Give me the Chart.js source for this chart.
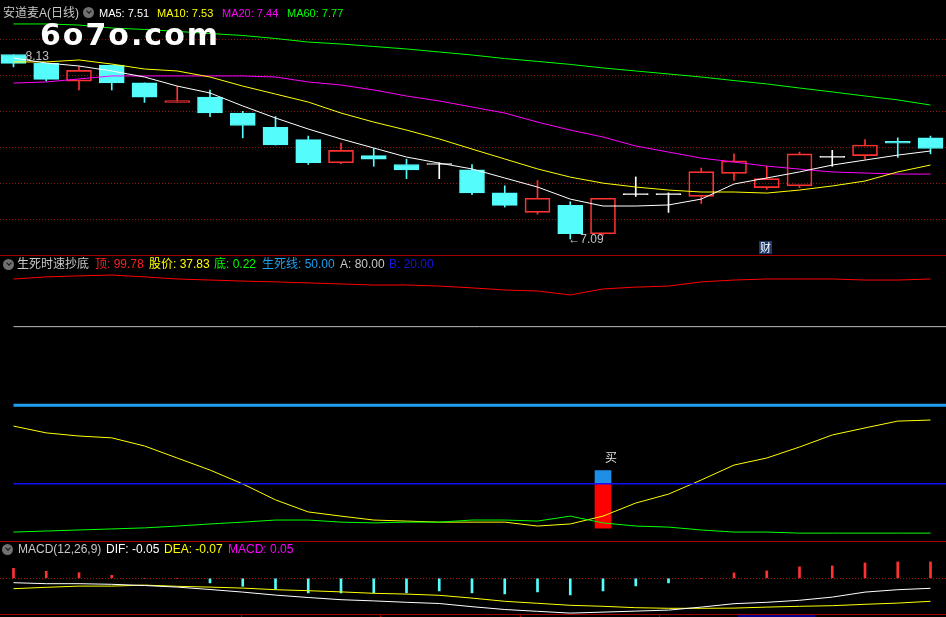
<!DOCTYPE html>
<html>
<head>
<meta charset="utf-8">
<script src="https://cdn.jsdelivr.net/npm/chart.js@4.4.0/dist/chart.umd.min.js"></script>
<style>
body{margin:0;background:#000;width:946px;height:617px;overflow:hidden;position:relative;font-family:"Liberation Sans","Noto Sans CJK SC",sans-serif;}
canvas{position:absolute;left:0;}
.t{position:absolute;font-size:12px;line-height:16px;white-space:nowrap;z-index:5;}
.s{font-size:11px;}
.ic{position:absolute;width:11px;height:11px;border-radius:50%;background:#707070;z-index:5;}
.ic:after{content:'';position:absolute;left:3.5px;top:2px;width:3px;height:3px;border-right:1.5px solid #151515;border-bottom:1.5px solid #151515;transform:rotate(45deg);}
.hl{position:absolute;left:0;width:946px;height:1px;background:#a00000;z-index:4;}
.tk{position:absolute;top:614px;width:1px;height:3px;background:#a00000;}
.wm{position:absolute;left:40px;top:20px;font:bold 30px/30px "DejaVu Sans";letter-spacing:2px;color:#fff;z-index:6;}
.cai{position:absolute;left:759px;top:241px;width:13px;height:13px;background:#1b3b6e;color:#fff;font:11px/13px "Noto Sans CJK SC";text-align:center;z-index:5;}
</style>
</head>
<body>
<canvas id="k" width="946" height="255" style="top:0"></canvas>
<canvas id="sd" width="946" height="286" style="top:255px"></canvas>
<canvas id="macd" width="946" height="73" style="top:541px"></canvas>

<div class="hl" style="top:255px"></div>
<div class="hl" style="top:541px"></div>
<div class="hl" style="top:614px"></div>
<div class="tk" style="left:241px"></div>
<div class="tk" style="left:380px"></div>
<div class="tk" style="left:520px"></div>
<div class="tk" style="left:659px"></div>
<div style="position:absolute;left:738px;top:615px;width:77px;height:2px;background:#00008b"></div>

<!-- 主图标题 -->
<span class="t" style="left:3px;top:5px;color:#c8c8c8">安道麦A(日线)</span>
<div class="ic" style="left:83px;top:7px"></div>
<span class="t s" style="left:99px;top:5px;color:#fff">MA5: 7.51</span>
<span class="t s" style="left:157px;top:5px;color:#ffff00">MA10: 7.53</span>
<span class="t s" style="left:222px;top:5px;color:#ff00ff">MA20: 7.44</span>
<span class="t s" style="left:287px;top:5px;color:#00ff00">MA60: 7.77</span>
<div class="wm">6o7o.com</div>
<div class="cai">财</div>

<!-- 副图标题 -->
<div class="ic" style="left:3px;top:259px"></div>
<span class="t" style="left:17px;top:256px;color:#c8c8c8">生死时速抄底</span>
<span class="t" style="left:95px;top:256px;color:#ff2020">顶: 99.78</span>
<span class="t" style="left:149px;top:256px;color:#ffff00">股价: 37.83</span>
<span class="t" style="left:214px;top:256px;color:#00ff00">底: 0.22</span>
<span class="t" style="left:262px;top:256px;color:#1e9fef">生死线: 50.00</span>
<span class="t" style="left:340px;top:256px;color:#c8c8c8">A: 80.00</span>
<span class="t" style="left:389px;top:256px;color:#1515e6">B: 20.00</span>

<div class="ic" style="left:2px;top:544px"></div>
<span class="t" style="left:18px;top:541px;color:#c8c8c8">MACD(12,26,9)</span>
<span class="t" style="left:106px;top:541px;color:#fff">DIF: -0.05</span>
<span class="t" style="left:164px;top:541px;color:#ffff00">DEA: -0.07</span>
<span class="t" style="left:228px;top:541px;color:#ff00ff">MACD: 0.05</span>

<script>
// K线数据
const open  = [8.13,8.08,7.98,8.07,7.97,7.86,7.89,7.80,7.72,7.65,7.52,7.56,7.51,7.51,7.48,7.35,7.24,7.28,7.12,7.34,7.34,7.33,7.46,7.38,7.39,7.55,7.56,7.64,7.66];
const high  = [8.13,8.08,8.06,8.07,7.97,7.95,7.93,7.81,7.78,7.67,7.63,7.60,7.54,7.52,7.51,7.39,7.42,7.30,7.32,7.44,7.35,7.49,7.57,7.50,7.58,7.59,7.65,7.66,7.67];
const low   = [8.06,7.98,7.93,7.93,7.86,7.86,7.78,7.66,7.62,7.51,7.515,7.50,7.43,7.43,7.34,7.27,7.23,7.09,7.11,7.33,7.24,7.29,7.42,7.37,7.38,7.50,7.54,7.55,7.57];
const close = [8.08,7.99,8.04,7.97,7.89,7.87,7.80,7.73,7.62,7.52,7.59,7.54,7.48,7.51,7.35,7.28,7.32,7.12,7.32,7.34,7.34,7.47,7.53,7.43,7.57,7.55,7.62,7.63,7.60];

const ma5  = [8.110,8.082,8.065,8.037,8.003,7.952,7.913,7.840,7.772,7.710,7.654,7.603,7.552,7.518,7.485,7.434,7.383,7.315,7.276,7.276,7.282,7.315,7.400,7.434,7.468,7.507,7.535,7.563,7.586];
const ma10 = [8.088,8.088,8.099,8.076,8.048,8.037,8.003,7.952,7.907,7.862,7.800,7.749,7.704,7.654,7.597,7.541,7.485,7.439,7.405,7.383,7.366,7.355,7.355,7.349,7.366,7.389,7.417,7.468,7.507];
const ma20 = [7.969,7.975,7.992,8.009,8.009,8.009,8.009,8.009,8.003,7.975,7.958,7.930,7.896,7.868,7.834,7.800,7.749,7.704,7.665,7.614,7.580,7.546,7.524,7.501,7.484,7.468,7.462,7.456,7.456];
const ma60 = [8.302,8.302,8.296,8.279,8.271,8.260,8.248,8.237,8.220,8.200,8.189,8.175,8.161,8.144,8.127,8.107,8.091,8.074,8.054,8.037,8.020,8.003,7.983,7.964,7.941,7.919,7.896,7.874,7.845];
const priceGrid = [8.217, 8.014, 7.811, 7.608, 7.405, 7.202];

// 生死时速抄底
const topLine   = [98.2,99.0,99.4,99.7,99.0,98.2,97.8,97.4,97.1,96.7,96.3,95.9,95.9,95.5,94.8,94.0,93.6,92.1,94.4,95.1,95.5,97.1,97.8,98.2,98.2,98.2,97.8,97.8,98.2];
const priceLine = [42.0,39.4,38.2,37.5,34.4,29.8,25.2,19.9,13.8,9.2,7.6,6.1,5.7,5.3,5.3,5.3,3.8,4.6,7.6,12.6,16.0,21.4,27.1,29.8,34.0,38.6,41.3,43.9,44.3];
const bottomLine = [1.5,1.9,2.3,2.7,3.1,3.8,4.6,5.3,6.1,6.1,5.3,5.0,5.3,5.3,6.1,6.1,5.7,7.6,5.0,3.8,3.4,2.3,1.5,1.5,1.1,1.1,1.1,1.1,1.1];
const levelA = 80, levelMid = 50, levelB = 20;
const buyDays = [18];
const buyBar = [3, 20, 25]; // 红柱底, 红/蓝分界, 蓝柱顶

// MACD
const dif  = [-0.022,-0.027,-0.027,-0.030,-0.036,-0.044,-0.056,-0.069,-0.084,-0.096,-0.107,-0.113,-0.120,-0.126,-0.142,-0.156,-0.165,-0.174,-0.169,-0.164,-0.159,-0.144,-0.127,-0.120,-0.110,-0.094,-0.069,-0.057,-0.050];
const dea  = [-0.052,-0.045,-0.039,-0.039,-0.034,-0.040,-0.044,-0.049,-0.057,-0.062,-0.068,-0.075,-0.079,-0.085,-0.099,-0.115,-0.125,-0.135,-0.140,-0.147,-0.150,-0.150,-0.149,-0.144,-0.140,-0.137,-0.130,-0.124,-0.115];
const macd = [0.050,0.035,0.028,0.015,0,0,-0.023,-0.040,-0.055,-0.073,-0.073,-0.073,-0.073,-0.063,-0.073,-0.078,-0.068,-0.083,-0.063,-0.038,-0.023,0,0.027,0.037,0.057,0.062,0.077,0.082,0.082];

const RED = '#ff3232', CYAN = '#54fcfc';
const X_MIN = -0.412, X_MAX = 28.473;

const pts = arr => arr.map((v, i) => ({x: i, y: v}));
const flat = v => [{x: 0, y: v}, {x: X_MAX, y: v}];
const line = (data, color, width) => ({type: 'line', data: data, borderColor: color, borderWidth: width || 1,
    pointRadius: 0, tension: 0, fill: false, order: 0});
const xScale = {type: 'linear', min: X_MIN, max: X_MAX, offset: false, display: false};
const base = {responsive: false, animation: false, events: [],
    layout: {padding: 0}, plugins: {legend: {display: false}, tooltip: {enabled: false}}};

const kColor = open.map((o, i) => close[i] > o ? RED : close[i] < o ? CYAN : '#ffffff');
const kFill = open.map((o, i) => close[i] > o ? 'rgba(0,0,0,0)' : kColor[i]);

// 最高/最低价标注
const markLabels = {
    id: 'markLabels',
    beforeDatasetsDraw(chart) {
        const {ctx, scales: {x, y}} = chart;
        const hi = Math.max(...high), lo = Math.min(...low);
        ctx.save();
        ctx.font = '12px "Liberation Sans", "DejaVu Sans"';
        ctx.fillStyle = '#c0c0c0';
        ctx.textBaseline = 'middle';
        ctx.fillText('\u2190' + hi.toFixed(2), x.getPixelForValue(high.indexOf(hi)), y.getPixelForValue(hi) + 2);
        ctx.fillText('\u2190' + lo.toFixed(2), x.getPixelForValue(low.indexOf(lo)) - 2, y.getPixelForValue(lo) + 1);
        ctx.restore();
    }
};

new Chart(document.getElementById('k'), {
    type: 'bar',
    data: {datasets: [
        line(pts(ma5), '#ffffff'),
        line(pts(ma10), '#ffff00'),
        line(pts(ma20), '#ff00ff'),
        line(pts(ma60), '#00ff00'),
        {data: open.map((o, i) => ({x: i, y: [Math.max(o, close[i]), high[i]]})), backgroundColor: kColor,
            barThickness: 1, grouped: false, order: 3},
        {data: open.map((o, i) => ({x: i, y: [low[i], Math.min(o, close[i])]})), backgroundColor: kColor,
            barThickness: 1, grouped: false, order: 3},
        {data: open.map((o, i) => ({x: i, y: [o, close[i]]})), backgroundColor: kFill, borderColor: kColor,
            borderWidth: 1, borderSkipped: false, barThickness: 25, minBarLength: 1, grouped: false, order: 2}
    ]},
    options: Object.assign({}, base, {scales: {
        x: xScale,
        y: {min: 7.0, max: 8.437, position: 'right', ticks: {display: false},
            grid: {color: '#8c1414', drawTicks: false}, border: {display: false, dash: [1, 2]},
            afterBuildTicks: s => { s.ticks = priceGrid.map(v => ({value: v})); }}
    }}),
    plugins: [markLabels]
});

// 买点文字
const buyLabel = {
    id: 'buyLabel',
    afterDatasetsDraw(chart) {
        const {ctx, scales: {x, y}} = chart;
        ctx.save();
        ctx.font = '12px "Noto Sans CJK SC"';
        ctx.fillStyle = '#e0e0e0';
        ctx.textBaseline = 'middle';
        buyDays.forEach(d => ctx.fillText('买', x.getPixelForValue(d) + 2, y.getPixelForValue(buyBar[2]) - 13));
        ctx.restore();
    }
};

new Chart(document.getElementById('sd'), {
    type: 'bar',
    data: {datasets: [
        line(flat(levelA), '#bbbbbb'),
        line(flat(levelMid), '#1e9fef', 3),
        line(flat(levelB), '#1010ff', 1.5),
        line(pts(topLine), '#ff0000'),
        line(pts(bottomLine), '#00ff00'),
        line(pts(priceLine), '#ffff00'),
        {data: buyDays.map(d => ({x: d, y: [buyBar[0], buyBar[1]]})), backgroundColor: '#ff0000',
            barThickness: 16, grouped: false, order: 1},
        {data: buyDays.map(d => ({x: d, y: [buyBar[1], buyBar[2]]})), backgroundColor: '#1d8fe6',
            barThickness: 16, grouped: false, order: 1}
    ]},
    options: Object.assign({}, base, {scales: {
        x: xScale,
        y: {min: -1.91, max: 107.37, display: false}
    }}),
    plugins: [buyLabel]
});

new Chart(document.getElementById('macd'), {
    type: 'bar',
    data: {datasets: [
        line(pts(dif), '#ffffff'),
        line(pts(dea), '#ffff00'),
        {data: pts(macd), backgroundColor: macd.map(v => v >= 0 ? RED : CYAN),
            barThickness: 2, grouped: false, order: 2}
    ]},
    options: Object.assign({}, base, {scales: {
        x: xScale,
        y: {min: -0.1785, max: 0.1865, position: 'right', ticks: {display: false},
            grid: {color: '#a01414', drawTicks: false}, border: {display: false, dash: [1, 2]},
            afterBuildTicks: s => { s.ticks = [{value: 0}]; }}
    }})
});
</script>
</body>
</html>
